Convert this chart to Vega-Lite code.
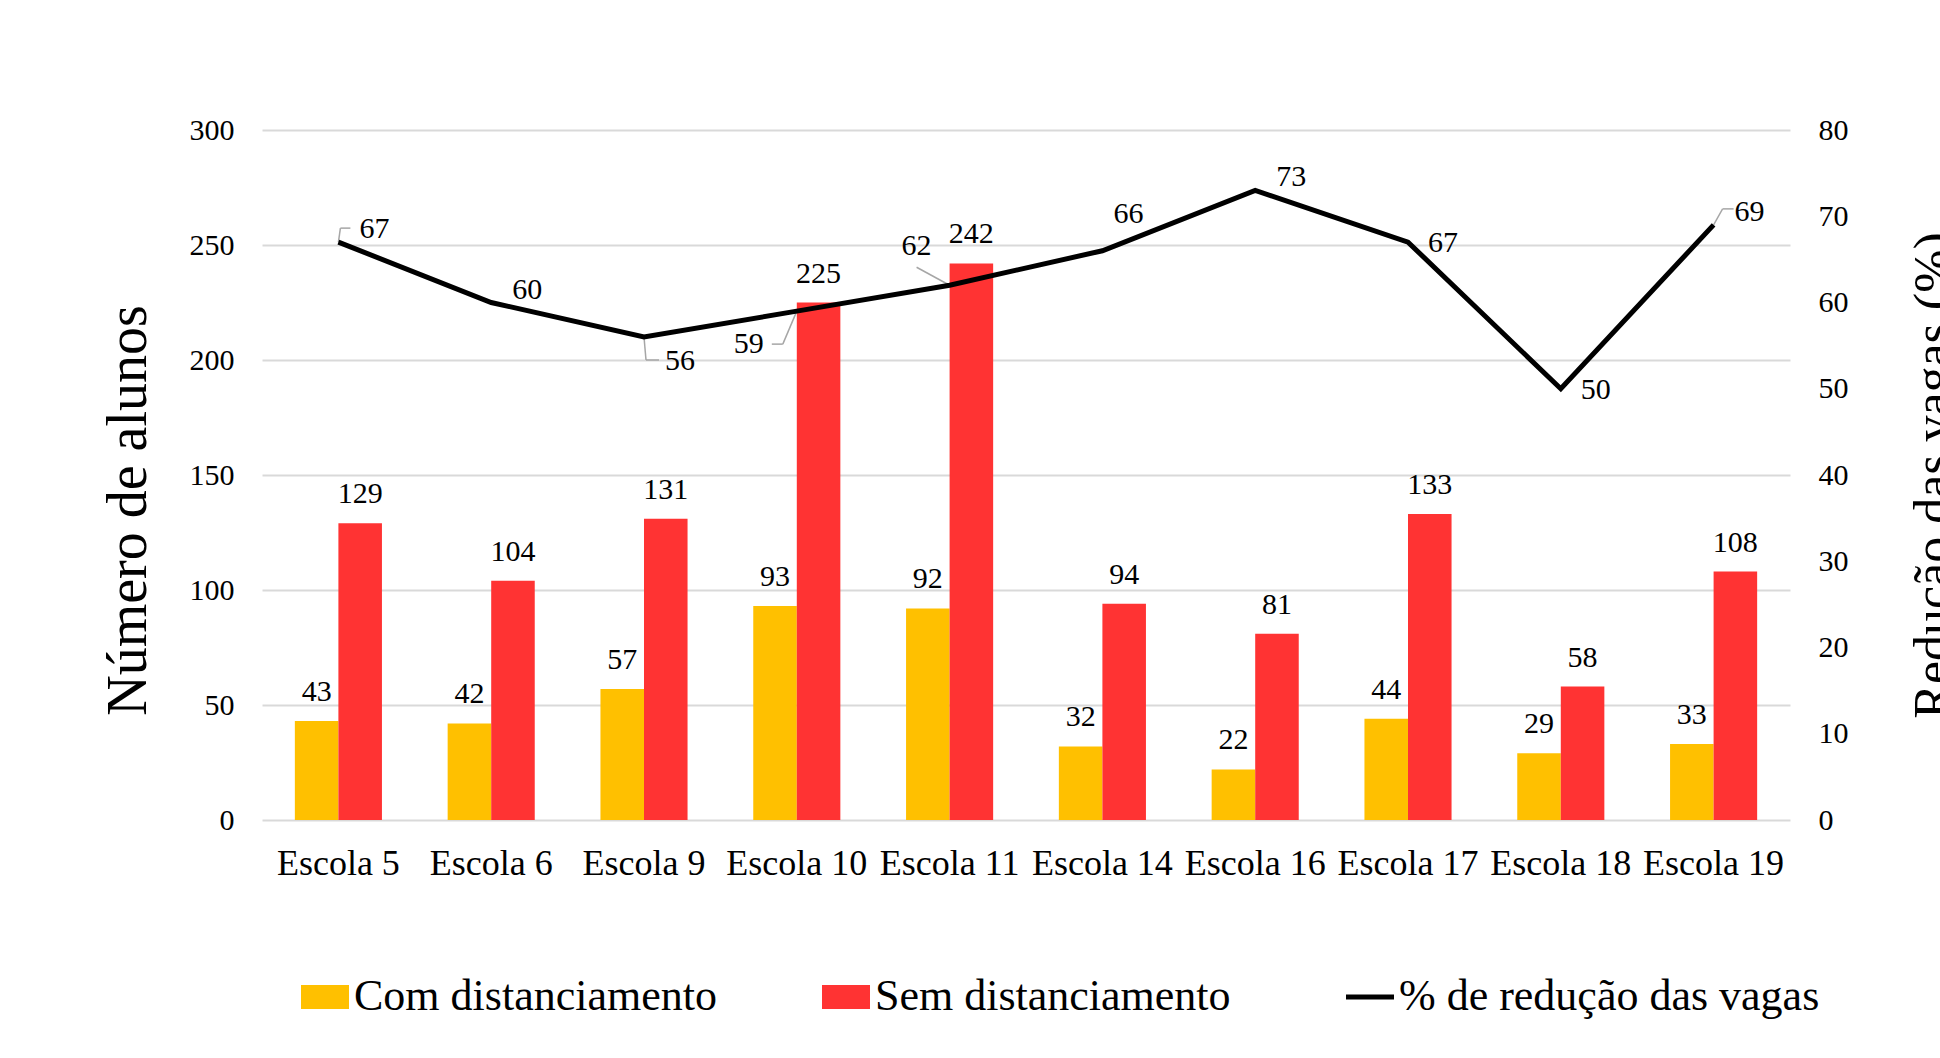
{
  "$schema": "https://vega.github.io/schema/vega-lite/v6.json",
  "width": 1528,
  "height": 690,
  "autosize": {"type": "none"},
  "padding": {"left": 262, "top": 130, "right": 150, "bottom": 238},
  "background": "white",
  "config": {
    "font": "Liberation Serif",
    "view": {"stroke": null},
    "text": {"font": "Liberation Serif", "fontSize": 30, "color": "#000000"}
  },
  "datasets": {
    "bars": [
      {"escola": "Escola 5", "serie": "Com distanciamento", "alunos": 43},
      {"escola": "Escola 5", "serie": "Sem distanciamento", "alunos": 129},
      {"escola": "Escola 6", "serie": "Com distanciamento", "alunos": 42},
      {"escola": "Escola 6", "serie": "Sem distanciamento", "alunos": 104},
      {"escola": "Escola 9", "serie": "Com distanciamento", "alunos": 57},
      {"escola": "Escola 9", "serie": "Sem distanciamento", "alunos": 131},
      {"escola": "Escola 10", "serie": "Com distanciamento", "alunos": 93},
      {"escola": "Escola 10", "serie": "Sem distanciamento", "alunos": 225},
      {"escola": "Escola 11", "serie": "Com distanciamento", "alunos": 92},
      {"escola": "Escola 11", "serie": "Sem distanciamento", "alunos": 242},
      {"escola": "Escola 14", "serie": "Com distanciamento", "alunos": 32},
      {"escola": "Escola 14", "serie": "Sem distanciamento", "alunos": 94},
      {"escola": "Escola 16", "serie": "Com distanciamento", "alunos": 22},
      {"escola": "Escola 16", "serie": "Sem distanciamento", "alunos": 81},
      {"escola": "Escola 17", "serie": "Com distanciamento", "alunos": 44},
      {"escola": "Escola 17", "serie": "Sem distanciamento", "alunos": 133},
      {"escola": "Escola 18", "serie": "Com distanciamento", "alunos": 29},
      {"escola": "Escola 18", "serie": "Sem distanciamento", "alunos": 58},
      {"escola": "Escola 19", "serie": "Com distanciamento", "alunos": 33},
      {"escola": "Escola 19", "serie": "Sem distanciamento", "alunos": 108}
    ],
    "line": [
      {"escola": "Escola 5", "reducao": 67},
      {"escola": "Escola 6", "reducao": 60},
      {"escola": "Escola 9", "reducao": 56},
      {"escola": "Escola 10", "reducao": 59},
      {"escola": "Escola 11", "reducao": 62},
      {"escola": "Escola 14", "reducao": 66},
      {"escola": "Escola 16", "reducao": 73},
      {"escola": "Escola 17", "reducao": 67},
      {"escola": "Escola 18", "reducao": 50},
      {"escola": "Escola 19", "reducao": 69}
    ]
  },
  "layer": [
    {
      "data": {"name": "bars"},
      "encoding": {
        "x": {
          "field": "escola", "type": "nominal",
          "sort": ["Escola 5", "Escola 6", "Escola 9", "Escola 10", "Escola 11", "Escola 14", "Escola 16", "Escola 17", "Escola 18", "Escola 19"],
          "scale": {"paddingInner": 0.43, "paddingOuter": 0.215},
          "axis": {"title": null, "labelAngle": 0, "labelFontSize": 36, "labelColor": "#000000", "labelPadding": 26, "ticks": false, "domain": false, "grid": false, "labelLimit": 400}
        },
        "xOffset": {"field": "serie", "type": "nominal", "sort": ["Com distanciamento", "Sem distanciamento"]},
        "y": {
          "field": "alunos", "type": "quantitative",
          "scale": {"domain": [0, 300], "nice": false},
          "axis": {
            "values": [0, 50, 100, 150, 200, 250, 300],
            "title": "Número de alunos", "titleFontSize": 56, "titleFontWeight": "normal", "titleColor": "#000000", "titlePadding": 32, "titleY": 380,
            "labelFontSize": 30, "labelColor": "#000000", "labelPadding": 28,
            "ticks": false, "domain": false, "grid": true, "gridColor": "#d9d9d9", "gridWidth": 2
          }
        }
      },
      "layer": [
        {
          "mark": {"type": "bar"},
          "encoding": {
            "color": {
              "field": "serie", "type": "nominal",
              "scale": {
                "domain": ["Com distanciamento", "Sem distanciamento", "% de redução das vagas"],
                "range": ["#FFC000", "#FF3333", "#000000"]
              },
              "legend": {
                "title": null, "orient": "none", "legendX": 41, "legendY": 845,
                "direction": "horizontal", "columns": 3, "padding": 0,
                "labelFontSize": 44, "labelColor": "#000000", "labelOffset": 7, "labelLimit": 800,
                "columnPadding": 105, "symbolSize": 2304,
                "encode": {
                  "symbols": {
                    "update": {
                      "shape": {"signal": "datum.value === 'Com distanciamento' || datum.value === 'Sem distanciamento' ? 'M-1,-0.5H1V0.5H-1Z' : 'M-1,0H1'"},
                      "fill": {"signal": "datum.value === 'Com distanciamento' ? '#FFC000' : datum.value === 'Sem distanciamento' ? '#FF3333' : 'transparent'"},
                      "stroke": {"signal": "datum.value === 'Com distanciamento' || datum.value === 'Sem distanciamento' ? 'transparent' : '#000000'"},
                      "strokeWidth": {"signal": "datum.value === 'Com distanciamento' || datum.value === 'Sem distanciamento' ? 0 : 5"}
                    }
                  }
                }
              }
            }
          }
        },
        {
          "mark": {"type": "text", "baseline": "alphabetic", "align": "center", "dy": -20, "fontSize": 30},
          "encoding": {"text": {"field": "alunos", "type": "quantitative"}}
        }
      ]
    },
    {
      "data": {"name": "line"},
      "encoding": {
        "x": {"field": "escola", "type": "nominal", "sort": ["Escola 5", "Escola 6", "Escola 9", "Escola 10", "Escola 11", "Escola 14", "Escola 16", "Escola 17", "Escola 18", "Escola 19"]},
        "y": {
          "field": "reducao", "type": "quantitative",
          "scale": {"domain": [0, 80], "nice": false},
          "axis": {
            "orient": "right",
            "values": [0, 10, 20, 30, 40, 50, 60, 70, 80],
            "title": "Redução das vagas (%)", "titleAngle": 270, "titleBaseline": "top", "titleFontSize": 52, "titleFontWeight": "normal", "titleColor": "#000000", "titlePadding": 60,
            "labelFontSize": 30, "labelColor": "#000000", "labelPadding": 28,
            "ticks": false, "domain": false, "grid": false
          }
        }
      },
      "layer": [
        {
          "transform": [{"filter": {"field": "escola", "equal": "Escola 10"}}],
          "mark": {"type": "rule", "color": "#a6a6a6", "strokeWidth": 1.5, "x2Offset": -14, "y2Offset": 33},
          "encoding": {"x2": {"field": "escola"}, "y2": {"field": "reducao"}}
        },
        {
          "transform": [{"filter": {"field": "escola", "equal": "Escola 10"}}],
          "mark": {"type": "rule", "color": "#a6a6a6", "strokeWidth": 1.5, "xOffset": -14, "yOffset": 33, "x2Offset": -25, "y2Offset": 33},
          "encoding": {"x2": {"field": "escola"}, "y2": {"field": "reducao"}}
        },
        {
          "transform": [{"filter": {"field": "escola", "equal": "Escola 11"}}],
          "mark": {"type": "rule", "color": "#a6a6a6", "strokeWidth": 1.5, "x2Offset": -33, "y2Offset": -18},
          "encoding": {"x2": {"field": "escola"}, "y2": {"field": "reducao"}}
        },
        {
          "transform": [{"filter": {"field": "escola", "equal": "Escola 9"}}],
          "mark": {"type": "rule", "color": "#a6a6a6", "strokeWidth": 1.5, "x2Offset": 2, "y2Offset": 23},
          "encoding": {"x2": {"field": "escola"}, "y2": {"field": "reducao"}}
        },
        {
          "transform": [{"filter": {"field": "escola", "equal": "Escola 9"}}],
          "mark": {"type": "rule", "color": "#a6a6a6", "strokeWidth": 1.5, "xOffset": 2, "yOffset": 23, "x2Offset": 15, "y2Offset": 23},
          "encoding": {"x2": {"field": "escola"}, "y2": {"field": "reducao"}}
        },
        {
          "transform": [{"filter": {"field": "escola", "equal": "Escola 5"}}],
          "mark": {"type": "rule", "color": "#a6a6a6", "strokeWidth": 1.5, "x2Offset": 2, "y2Offset": -14},
          "encoding": {"x2": {"field": "escola"}, "y2": {"field": "reducao"}}
        },
        {
          "transform": [{"filter": {"field": "escola", "equal": "Escola 5"}}],
          "mark": {"type": "rule", "color": "#a6a6a6", "strokeWidth": 1.5, "xOffset": 2, "yOffset": -14, "x2Offset": 12, "y2Offset": -14},
          "encoding": {"x2": {"field": "escola"}, "y2": {"field": "reducao"}}
        },
        {
          "transform": [{"filter": {"field": "escola", "equal": "Escola 19"}}],
          "mark": {"type": "rule", "color": "#a6a6a6", "strokeWidth": 1.5, "x2Offset": 9, "y2Offset": -16},
          "encoding": {"x2": {"field": "escola"}, "y2": {"field": "reducao"}}
        },
        {
          "transform": [{"filter": {"field": "escola", "equal": "Escola 19"}}],
          "mark": {"type": "rule", "color": "#a6a6a6", "strokeWidth": 1.5, "xOffset": 9, "yOffset": -16, "x2Offset": 20, "y2Offset": -16},
          "encoding": {"x2": {"field": "escola"}, "y2": {"field": "reducao"}}
        },
        {
          "mark": {"type": "line", "strokeWidth": 5, "strokeJoin": "miter"},
          "encoding": {"color": {"datum": "% de redução das vagas"}}
        },
        {
          "transform": [{"filter": {"field": "escola", "oneOf": ["Escola 5", "Escola 6", "Escola 16", "Escola 19"]}}],
          "mark": {"type": "text", "align": "center", "baseline": "middle", "dx": 36, "dy": -13, "fontSize": 30},
          "encoding": {"text": {"field": "reducao", "type": "quantitative"}}
        },
        {
          "transform": [{"filter": {"field": "escola", "oneOf": ["Escola 17", "Escola 18"]}}],
          "mark": {"type": "text", "align": "center", "baseline": "middle", "dx": 35, "dy": 1, "fontSize": 30},
          "encoding": {"text": {"field": "reducao", "type": "quantitative"}}
        },
        {
          "transform": [{"filter": {"field": "escola", "equal": "Escola 9"}}],
          "mark": {"type": "text", "align": "center", "baseline": "middle", "dx": 36, "dy": 24, "fontSize": 30},
          "encoding": {"text": {"field": "reducao", "type": "quantitative"}}
        },
        {
          "transform": [{"filter": {"field": "escola", "equal": "Escola 10"}}],
          "mark": {"type": "text", "align": "center", "baseline": "middle", "dx": -48, "dy": 33, "fontSize": 30},
          "encoding": {"text": {"field": "reducao", "type": "quantitative"}}
        },
        {
          "transform": [{"filter": {"field": "escola", "equal": "Escola 11"}}],
          "mark": {"type": "text", "align": "center", "baseline": "middle", "dx": -33, "dy": -39, "fontSize": 30},
          "encoding": {"text": {"field": "reducao", "type": "quantitative"}}
        },
        {
          "transform": [{"filter": {"field": "escola", "equal": "Escola 14"}}],
          "mark": {"type": "text", "align": "center", "baseline": "middle", "dx": 26, "dy": -37, "fontSize": 30},
          "encoding": {"text": {"field": "reducao", "type": "quantitative"}}
        }
      ]
    }
  ],
  "resolve": {"scale": {"y": "independent"}}
}
